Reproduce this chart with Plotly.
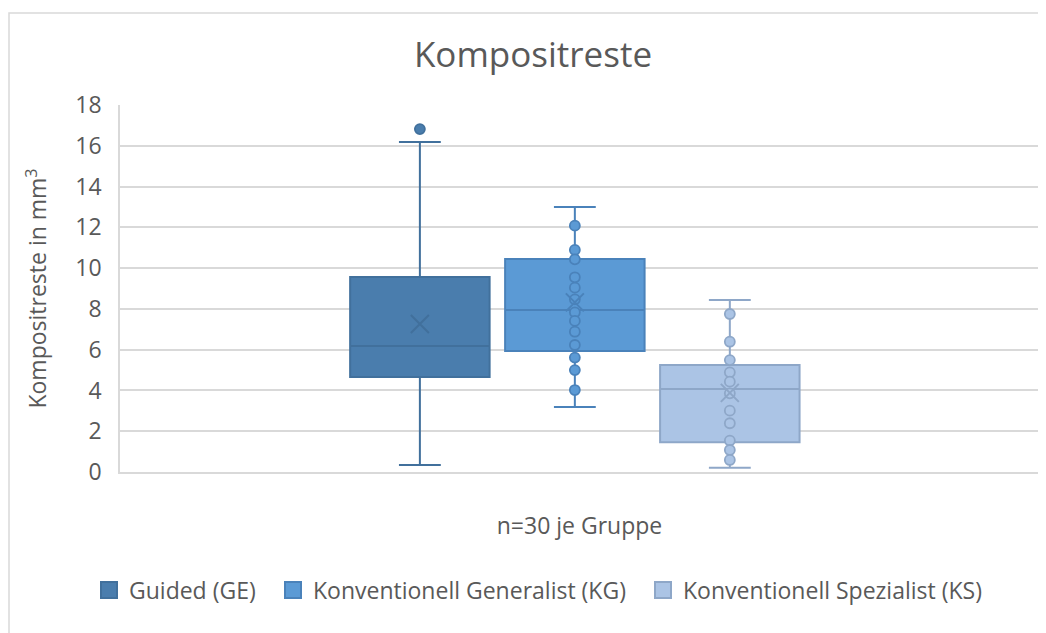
import plotly.graph_objects as go

groups = ["Guided (GE)", "Konventionell Generalist (KG)", "Konventionell Spezialist (KS)"]
q1 = [4.66, 5.93, 1.46]
median = [6.18, 7.94, 4.07]
q3 = [9.56, 10.45, 5.25]
lower = [0.34, 3.19, 0.21]
upper = [16.18, 13.0, 8.44]
means = [7.26, 8.32, 3.88]
points = [
    [16.82],
    [12.08, 10.89, 10.43, 9.55, 9.04, 8.47, 7.83, 7.41, 6.88, 6.23, 5.61, 5.0, 4.02],
    [7.75, 6.39, 5.49, 4.89, 4.43, 3.86, 3.01, 2.39, 1.54, 1.08, 0.59],
]
y_ticks = [0, 2, 4, 6, 8, 10, 12, 14, 16, 18]

fills = ["#4A7DAD", "#5B9AD5", "#ABC4E5"]
edges = ["#41709C", "#4A82BA", "#8EA7C8"]
xpos = [1, 2, 3]
FONT = "Open Sans"
GREY = "#595959"

W, H = 1038, 625          # page body has an 8px margin
L, T, R, B = 112, 97, 7, 161
PW, PH = W - L - R, H - T - B
legend_names = ["legend", "legend2", "legend3"]
legend_x = [81, 265, 635]   # px in figure coords (symbol centre - 20)

fig = go.Figure()
for i, g in enumerate(groups):
    fig.add_trace(go.Box(
        name=g, x=[xpos[i]], q1=[q1[i]], median=[median[i]], q3=[q3[i]],
        lowerfence=[lower[i]], upperfence=[upper[i]],
        width=0.9, whiskerwidth=0.3, boxpoints=False,
        fillcolor=fills[i], line=dict(color=edges[i], width=2),
        showlegend=False, legendgroup=g, hoverinfo="skip",
    ))
for i, g in enumerate(groups):
    fig.add_trace(go.Scatter(
        x=[xpos[i]] * len(points[i]), y=points[i], mode="markers",
        marker=dict(size=10, color=fills[i], line=dict(color=edges[i], width=1.8)),
        showlegend=False, legendgroup=g, hoverinfo="skip",
    ))
    fig.add_trace(go.Scatter(
        x=[xpos[i]], y=[means[i]], mode="markers",
        marker=dict(symbol="x-thin", size=18, line=dict(color=edges[i], width=2)),
        showlegend=False, legendgroup=g, hoverinfo="skip",
    ))
# legend entries
for i, g in enumerate(groups):
    fig.add_trace(go.Scatter(
        x=[None], y=[None], mode="markers", name=g, legendgroup=g,
        legend=legend_names[i],
        marker=dict(symbol="square", size=16, color=fills[i], line=dict(color=edges[i], width=2)),
        showlegend=True, hoverinfo="skip",
    ))

legend_common = dict(orientation="h", xref="container", yref="container",
                     xanchor="left", y=1 - 582 / H, yanchor="middle",
                     font=dict(size=23, color=GREY, family=FONT), itemwidth=30,
                     itemsizing="trace", bgcolor="rgba(0,0,0,0)")

fig.update_layout(
    width=W, height=H,
    margin=dict(l=L, r=R, t=T, b=B),
    paper_bgcolor="white", plot_bgcolor="white",
    font=dict(family=FONT, color=GREY, size=23),
    title=dict(text="Kompositreste", font=dict(size=35, color=GREY, family=FONT),
               x=525 / W, xref="container", xanchor="center",
               y=1 - 47 / H, yref="container", yanchor="middle"),
    showlegend=True,
    legend=dict(x=legend_x[0] / W, **legend_common),
    legend2=dict(x=legend_x[1] / W, **legend_common),
    legend3=dict(x=legend_x[2] / W, **legend_common),
    xaxis=dict(range=[-0.935, 4.995], showticklabels=False, showgrid=False,
               zeroline=False, showline=True, linecolor="#D9D9D9", linewidth=1.5,
               title=dict(text="n=30 je Gruppe", font=dict(size=23, color=GREY), standoff=45)),
    yaxis=dict(range=[0, 18], tickvals=y_ticks, showgrid=True, gridcolor="#D9D9D9",
               gridwidth=1.5, zeroline=False, showline=True, linecolor="#D9D9D9", linewidth=1.5,
               tickfont=dict(size=23, color=GREY), ticklabelstandoff=12,
               title=dict(text="Kompositreste in mm<sup>3</sup>", font=dict(size=23, color=GREY), standoff=22)),
    shapes=[dict(type="rect", xref="paper", yref="paper",
                 x0=(1 - L) / PW, x1=(1060 - L) / PW,
                 y0=-(640 - (T + PH)) / PH, y1=(T + PH - 5) / PH,
                 line=dict(color="#D9D9D9", width=1.5), layer="below")],
)

fig.write_html("out.html")
